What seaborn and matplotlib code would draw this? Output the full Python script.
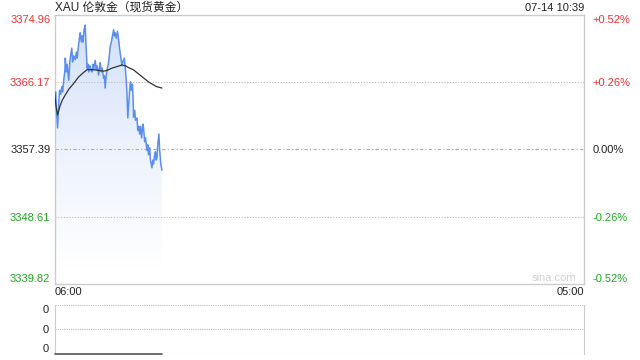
import numpy as np
import pandas as pd
import matplotlib
matplotlib.use("Agg")
import matplotlib.pyplot as plt
import seaborn as sns
from matplotlib.patches import PathPatch
from matplotlib.colors import LinearSegmentedColormap

# ---------------- data ----------------
title = "XAU 伦敦金（现货黄金）"
timestamp = "07-14 10:39"
prev_close = 3357.39
y_ticks = [3339.82, 3348.61, 3357.39, 3366.17, 3374.96]
pct_labels = ["-0.52%", "-0.26%", "0.00%", "+0.26%", "+0.52%"]
x_tick_labels = ["06:00", "05:00"]
session_minutes = 1380  # 06:00 -> 05:00 next day

minutes = [0, 3, 5, 8, 10, 13, 16, 19, 21, 24, 27, 28, 31, 33, 37, 40, 42, 45, 47, 50,
           54, 57, 59, 63, 65, 67, 70, 72, 74, 77, 80, 82, 85, 87, 89, 92, 94, 98, 100, 102,
           106, 109, 111, 115, 117, 119, 122, 124, 128, 130, 132, 135, 137, 140, 143, 145, 148, 150, 154, 156,
           158, 161, 164, 167, 170, 173, 176, 178, 182, 184, 187, 189, 191, 194, 196, 198, 200, 203, 205, 206,
           209, 211, 215, 217, 219, 222, 224, 227, 230, 232, 235, 237, 241, 243, 245, 248, 250, 254, 256, 258,
           261, 263, 265, 267, 269, 272, 274, 277, 280]
prices = [3364.5, 3364.9, 3362.5, 3360.2, 3362.3, 3365.1, 3364.6, 3365.6, 3364.9, 3366.4,
          3367.7, 3369.3, 3367.5, 3368.5, 3366.4, 3368.8, 3369.7, 3370.6, 3368.8, 3369.6,
          3369.1, 3370.1, 3369.3, 3371.2, 3371.9, 3372.6, 3371.4, 3372.2, 3371.4, 3373.0,
          3373.6, 3371.0, 3368.0, 3368.5, 3367.5, 3368.3, 3367.8, 3367.5, 3368.5, 3367.8,
          3369.0, 3367.8, 3368.3, 3367.1, 3368.0, 3368.7, 3367.5, 3368.0, 3366.7, 3367.0,
          3365.4, 3367.2, 3367.8, 3368.5, 3369.7, 3370.8, 3371.4, 3371.9, 3373.0, 3372.2,
          3372.6, 3371.9, 3372.8, 3371.7, 3370.4, 3369.3, 3368.3, 3368.8, 3369.3, 3368.3,
          3366.4, 3364.5, 3361.5, 3363.8, 3365.4, 3366.2, 3365.1, 3365.9, 3363.8, 3361.6,
          3362.5, 3361.2, 3361.5, 3359.9, 3360.4, 3359.4, 3360.4, 3358.9, 3360.7, 3360.2,
          3358.4, 3358.9, 3357.3, 3358.0, 3356.7, 3357.6, 3356.0, 3355.0, 3356.0, 3355.5,
          3356.7, 3357.1, 3356.0, 3356.3, 3358.0, 3359.4, 3357.3, 3355.5, 3354.7]

ma_minutes = [0, 4, 8, 14, 20, 28, 38, 50, 62, 75, 85, 100, 115, 128, 137, 150, 163, 175,
              185, 195, 205, 215, 225, 235, 245, 255, 265, 280]
ma_prices = [3364.8, 3363.0, 3361.9, 3363.0, 3363.8, 3364.5, 3365.3, 3366.0, 3366.8, 3367.4,
             3367.8, 3367.8, 3367.7, 3367.6, 3367.7, 3368.0, 3368.2, 3368.4, 3368.3, 3368.0,
             3367.8, 3367.4, 3367.0, 3366.6, 3366.2, 3365.9, 3365.6, 3365.4]

vol_minutes = [0, 280]
volumes = [0, 0]

df = pd.DataFrame({"t": minutes, "p": prices})
dma = pd.DataFrame({"t": ma_minutes, "p": ma_prices})
dvol = pd.DataFrame({"t": vol_minutes, "v": volumes})

# ---------------- style ----------------
sns.set_style("white")
plt.rcParams["font.family"] = ["Liberation Sans", "Noto Sans CJK SC", "DejaVu Sans"]
plt.rcParams["font.size"] = 8

RED = "#f23030"
GREEN = "#1fa81f"
GRID = "#bbbbbb"
SPINE = "#cccccc"
LINE = "#5a8ff0"

fig = plt.figure(figsize=(6.4, 3.6), dpi=100)
ax = fig.add_axes([0.0852, 0.2103, 0.9125 - 0.0852, 0.9592 - 0.2103])
axv = fig.add_axes([0.0852, 0.0167, 0.9125 - 0.0852, 0.1528 - 0.0167])

ymin, ymax = y_ticks[0], y_ticks[-1]
ax.set_xlim(0, session_minutes)
ax.set_ylim(ymin, ymax)

# gradient fill under price line
fill = ax.fill_between(df["t"], df["p"], ymin, color="none", lw=0)
path = fill.get_paths()[0]
patch = PathPatch(path, transform=ax.transData, facecolor="none", edgecolor="none")
ax.add_patch(patch)
cmap = LinearSegmentedColormap.from_list("g", ["#ffffff", "#edf2fd", "#d2e1fa"])
grad = np.linspace(0, 1, 256).reshape(-1, 1)
top = max(prices)
im = ax.imshow(grad, extent=[0, max(minutes), ymin + 2.0, top], origin="lower",
               aspect="auto", cmap=cmap, zorder=1)
im.set_clip_path(patch)

# grid lines (drawn above the fill)
for v in y_ticks[1:-1]:
    if v == prev_close:
        ax.axhline(v, color="#aaaaaa", lw=0.8, ls=(0, (3, 2, 1, 2)), zorder=2)
    else:
        ax.axhline(v, color=GRID, lw=0.8, ls=(0, (1, 1.5)), zorder=2)

sns.lineplot(data=df, x="t", y="p", ax=ax, color=LINE, lw=1.1, zorder=3)
sns.lineplot(data=dma, x="t", y="p", ax=ax, color="#333333", lw=0.9, zorder=4)

for s in ax.spines.values():
    s.set_color(SPINE)
    s.set_linewidth(1)

ax.set_xlabel("")
ax.set_ylabel("")
ax.set_yticks(y_ticks)
ax.set_yticklabels([f"{v:.2f}" for v in y_ticks])
ax.tick_params(axis="y", length=0, pad=3, labelsize=8)
cols = [GREEN, GREEN, "#222222", RED, RED]
for lab, c in zip(ax.get_yticklabels(), cols):
    lab.set_color(c)
ax.get_yticklabels()[0].set_va("bottom")
ax.get_yticklabels()[-1].set_va("top")

ax.set_xticks([0, session_minutes])
ax.set_xticklabels(x_tick_labels)
ax.tick_params(axis="x", length=0, pad=2, labelsize=8, labelcolor="#222222")
ax.get_xticklabels()[0].set_ha("left")
ax.get_xticklabels()[1].set_ha("right")

axr = ax.twinx()
axr.set_ylim(ymin, ymax)
axr.set_yticks(y_ticks)
axr.set_yticklabels(pct_labels)
axr.tick_params(axis="y", length=0, pad=6, labelsize=8)
for lab, c in zip(axr.get_yticklabels(), cols):
    lab.set_color(c)
axr.get_yticklabels()[0].set_va("bottom")
axr.get_yticklabels()[-1].set_va("top")
for s in axr.spines.values():
    s.set_visible(False)

ax.text(0, 1.005, title, transform=ax.transAxes, ha="left", va="bottom",
        fontsize=8.5, color="#222222")
ax.text(1, 1.005, timestamp, transform=ax.transAxes, ha="right", va="bottom",
        fontsize=8, color="#222222")
ax.text(0.985, 0.005, "sina.com", transform=ax.transAxes, ha="right", va="bottom",
        fontsize=8, color="#d0d0d0")

# volume panel
axv.set_xlim(0, session_minutes)
axv.set_ylim(0, 1)
for v in [0, 0.5, 1]:
    axv.axhline(v, color=GRID, lw=0.8, ls=(0, (1, 1)), zorder=0.5)
sns.lineplot(data=dvol, x="t", y="v", ax=axv, color="#555555", lw=1.2, zorder=3,
             clip_on=False)
axv.set_xlabel("")
axv.set_ylabel("")
axv.set_xticks([])
axv.set_yticks([0, 0.5, 1])
axv.set_yticklabels(["0", "0", "0"])
axv.tick_params(axis="y", length=0, pad=4, labelsize=8, labelcolor="#222222")
axv.get_yticklabels()[0].set_va("bottom")
axv.get_yticklabels()[-1].set_va("top")
axv.spines["top"].set_visible(False)
axv.spines["bottom"].set_visible(False)
axv.spines["left"].set_color(SPINE)
axv.spines["right"].set_color(SPINE)

fig.savefig("out.png", dpi=100)
